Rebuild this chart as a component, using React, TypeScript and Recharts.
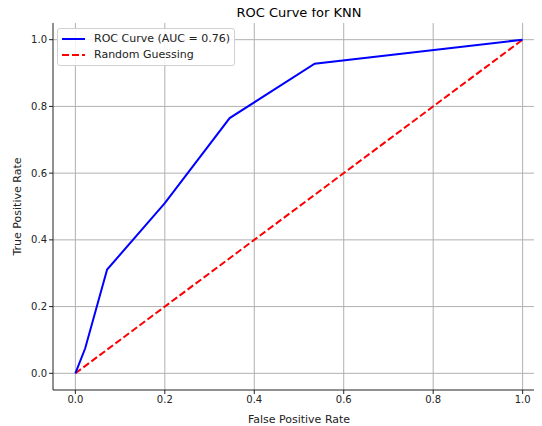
import React from 'react';
import {
  LineChart,
  Line,
  XAxis,
  YAxis,
  CartesianGrid,
} from 'recharts';

// ROC curve points
const fpr = [0, 0.022, 0.071, 0.2, 0.345, 0.535, 1];
const tpr = [0, 0.075, 0.311, 0.51, 0.765, 0.928, 1];
const diagX = [0, 1];
const diagY = [0, 1];
const ticks = [0, 0.2, 0.4, 0.6, 0.8, 1.0];

const rocData = fpr.map((x, i) => ({ x, y: tpr[i] }));
const diagData = diagX.map((x, i) => ({ x, y: diagY[i] }));

const FONT = 'DejaVu Sans, sans-serif';

const LegendBox = () => (
  <div
    style={{
      position: 'absolute',
      left: 57,
      top: 28,
      zIndex: 3,
      border: '1px solid #d0d0d0',
      borderRadius: 3,
      background: 'rgba(255,255,255,0.85)',
      padding: '2px 4px 2px 4px',
      fontFamily: FONT,
      fontSize: 11,
      color: '#222',
      lineHeight: '16px',
    }}
  >
    <div style={{ display: 'flex', alignItems: 'center' }}>
      <svg width={23} height={6} style={{ marginRight: 9 }}>
        <line x1={0} y1={3} x2={23} y2={3} stroke="#0000ff" strokeWidth={2} />
      </svg>
      ROC Curve (AUC = 0.76)
    </div>
    <div style={{ display: 'flex', alignItems: 'center' }}>
      <svg width={23} height={6} style={{ marginRight: 9 }}>
        <line x1={0} y1={3} x2={23} y2={3} stroke="#ff0000" strokeWidth={2} strokeDasharray="7 3" />
      </svg>
      Random Guessing
    </div>
  </div>
);

export default function App() {
  return (
    <div style={{ marginLeft: -8, marginTop: -8, position: 'relative', width: 554, height: 426 }}>
      <LineChart
        width={554}
        height={426}
        margin={{ top: 23, right: 9, bottom: 0, left: 0 }}
        style={{ fontFamily: FONT }}
      >
        <CartesianGrid stroke="#b0b0b0" strokeWidth={1} horizontalValues={ticks} verticalValues={ticks} />
        <XAxis
          type="number"
          dataKey="x"
          domain={[-0.05, 1.05]}
          ticks={ticks}
          tickFormatter={(v: number) => v.toFixed(1)}
          height={36}
          stroke="#222"
          tick={{ fill: '#222', fontSize: 10 }}
          tickSize={4}
          allowDataOverflow
          label={{ value: 'False Positive Rate', position: 'insideBottom', offset: 3, fill: '#222', fontSize: 11 }}
        />
        <XAxis xAxisId="top" orientation="top" type="number" domain={[-0.05, 1.05]} height={0} tick={false} tickLine={false} stroke="#222" />
        <YAxis
          type="number"
          domain={[-0.05, 1.05]}
          ticks={ticks}
          tickFormatter={(v: number) => v.toFixed(1)}
          width={53}
          stroke="#222"
          tick={{ fill: '#222', fontSize: 10 }}
          tickSize={4}
          allowDataOverflow
          label={{ value: 'True Positive Rate', angle: -90, position: 'insideLeft', offset: 17, fill: '#222', fontSize: 11, style: { textAnchor: 'middle' } }}
        />
        <YAxis yAxisId="right" orientation="right" type="number" domain={[-0.05, 1.05]} width={0} tick={false} tickLine={false} stroke="#222" />
        <Line
          data={diagData}
          dataKey="y"
          type="linear"
          stroke="#ff0000"
          strokeWidth={2}
          strokeDasharray="7 3"
          dot={false}
          isAnimationActive={false}
        />
        <Line
          data={rocData}
          dataKey="y"
          type="linear"
          stroke="#0000ff"
          strokeWidth={2}
          dot={false}
          isAnimationActive={false}
        />
      </LineChart>
      <div
        style={{
          position: 'absolute',
          left: 0,
          width: 598,
          top: 5,
          zIndex: 2,
          textAlign: 'center',
          fontFamily: FONT,
          fontSize: 13,
          lineHeight: '16px',
          color: '#000',
        }}
      >
        ROC Curve for KNN
      </div>
      <LegendBox />
    </div>
  );
}
